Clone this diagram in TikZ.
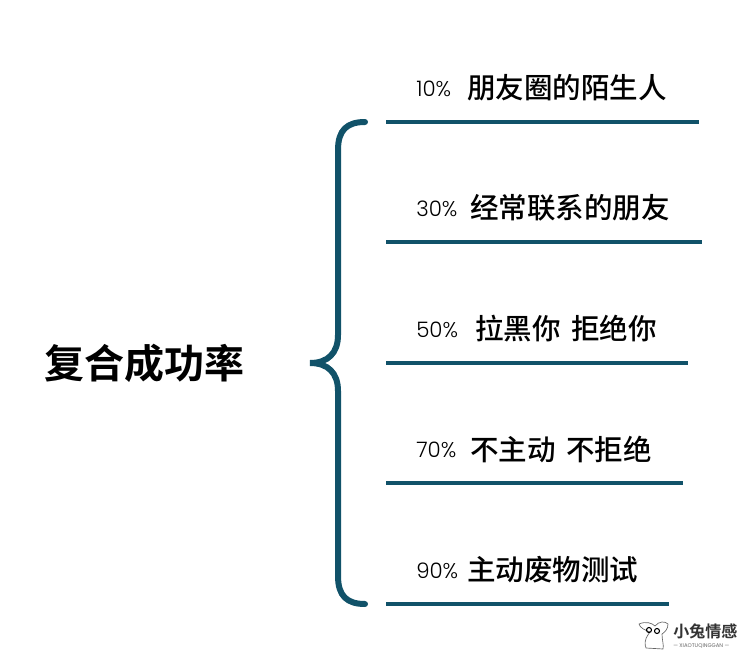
\documentclass[tikz,border=0pt]{standalone}
\usepackage{fontspec}
\newfontfamily\cjk[BoldFont={Noto Sans CJK SC Bold}]{Noto Sans CJK SC Medium}
\newfontfamily\pctfont{Poppins Light}
\newfontfamily\tinyfont{Poppins}
\usepackage{tikz}
\usetikzlibrary{arrows.meta,positioning,quotes}
\definecolor{teal_line}{HTML}{115269}
\definecolor{mark_gray}{HTML}{666666}
\begin{document}
\begin{tikzpicture}[x=0.75pt,y=-0.75pt,
      line_st/.style={
         draw=teal_line,
         line width=3pt},
      brace_st/.style={
         draw=teal_line,
         line width=4.5pt,
         line cap=round},
      title_node/.style={
         anchor=west,
         inner sep=0pt,
         font=\cjk\bfseries\fontsize{30}{30}\selectfont},
      text_node/.style={
         anchor=west,
         inner sep=0pt,
         font=\cjk\fontsize{21.4}{21.4}\selectfont},
      pct_node/.style={
         anchor=west,
         inner sep=0pt,
         font=\pctfont\fontsize{16}{16}\selectfont},
      mark_node/.style={
         anchor=west,
         inner sep=0pt,
         text=black!80,
         font=\cjk\bfseries\fontsize{12}{12}\selectfont},
      tiny_node/.style={
         anchor=west,
         inner sep=0pt,
         text=mark_gray,
         font=\tinyfont\fontsize{4}{4}\selectfont}
]
      \useasboundingbox (0,0) rectangle (750,660);

      %title
      \node[title_node] (title) at (44,363) {复合成功率};

      %brace
      \coordinate (btop) at (365,122);
      \coordinate (bmid) at (310,363);
      \coordinate (bbot) at (365,604);
      \draw[brace_st] (btop) .. controls (347,122) and (338,130) .. (338,150)
         -- (338,335) .. controls (338,353) and (328,363) .. (bmid)
         .. controls (328,363) and (338,373) .. (338,391)
         -- (338,576) .. controls (338,596) and (347,604) .. (bbot);

      %rows
      \foreach \i/\y/\e/\pct/\tx/\txt in {% name/line y/line end/percent/text x/text
        a/122/699/10/467/朋友圈的陌生人,
        b/242/702/30/470/经常联系的朋友,
        c/363/688/50/475/拉黑你\hspace{3pt}\ 拒绝你,
        d/483/683/70/470/不主动\hspace{3pt}\ 不拒绝,
        e/604/669/90/467/主动废物测试}
      {
       \coordinate (\i_s) at (386,\y);
       \coordinate (\i_e) at (\e,\y);
       \draw[line_st] (\i_s) -- (\i_e);
       \node[pct_node] (\i_pct) at (416,\y-33) {\pct\%};
       \node[text_node] (\i_txt) at (\tx,\y-34) {\txt};
      }

      %corner mark
      \node[mark_node] (mark) at (673,631) {小兔情感};
      \node[tiny_node,anchor=north west] (mark_sub) at (673,643) {— XIAOTUQINGGAN —};
      \draw[mark_gray,line width=0.5pt,line join=round]
         (646,648) .. controls (643,640) and (648,635) .. (650,632)
         .. controls (645,630) and (640,628) .. (639,624)
         .. controls (646,621) and (652,623) .. (655,626)
         .. controls (659,621) and (665,621) .. (668,624)
         .. controls (668,629) and (665,632) .. (662,634)
         .. controls (662,640) and (664,645) .. (663,649) -- cycle;
      \draw[black,line width=0.8pt] (649,630) circle (2.5) (657,631) circle (2.5);
\end{tikzpicture}
\end{document}
